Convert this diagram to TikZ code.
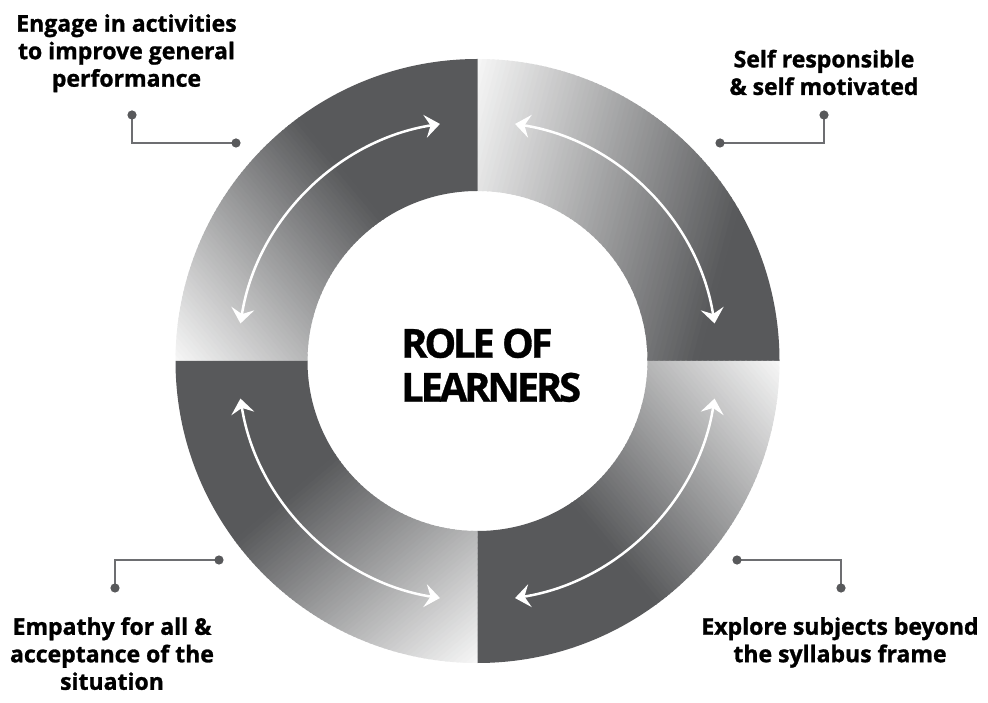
\documentclass[tikz,border=0pt]{standalone}
\usepackage{fontspec}
\setmainfont{Open Sans}[BoldFeatures={FakeBold=1.2}]
\newfontfamily\centerfont{Open Sans}[LetterSpace=-8,BoldFeatures={FakeBold=0.8}]
\usetikzlibrary{arrows.meta,calc}
\definecolor{ringdark}{HTML}{58595B}
\definecolor{ringlight}{HTML}{F7F7F7}
\definecolor{linkgray}{HTML}{6D6E71}
\definecolor{dotgray}{HTML}{58595B}
% #1 start angle of quadrant, #2,#3 light start point, #4 gradient direction, #5 gradient length
\newcommand\ringquad[5]{%
 \begin{scope}
  \clip ($(c)+(#1:302)$) arc[start angle=#1, end angle=#1+90, radius=302]
        -- ($(c)+({#1+90}:170)$) arc[start angle=#1+90, end angle=#1, radius=170] -- cycle;
  \begin{scope}[shift={(#2,#3)}, rotate=#4]
   \fill[ringlight] (-700,-700) rectangle (0,700);
   \fill[ringdark] (#5,-700) rectangle ({#5+700},700);
   \foreach \i in {0,...,59}{
     \pgfmathsetmacro\p{(\i+0.5)/60*100}
     \pgfmathsetmacro\xa{#5/60*\i}
     \pgfmathsetmacro\xb{#5/60*(\i+1.3)}
     \fill[ringdark!\p!ringlight] (\xa,-700) rectangle (\xb,700);
   }
  \end{scope}
 \end{scope}}
\tikzset{
  cyclearrow/.style={draw=white, line width=2.5pt,
     {Stealth[length=15pt,width=23pt,inset=5.5pt]}-{Stealth[length=15pt,width=23pt,inset=5.5pt]}},
  link/.style={draw=linkgray, line width=2.6pt},
  linkdot/.style={fill=dotgray},
  label/.style={font=\fontsize{23}{27.5}\selectfont\bfseries, align=center, inner sep=0pt, anchor=north, text=black},
  title/.style={font=\centerfont\fontsize{40}{44}\selectfont\bfseries, align=left, inner sep=0pt, anchor=north west, text=black}
}
\begin{document}
\begin{tikzpicture}[x=1pt,y=1pt]
\useasboundingbox (0,0) rectangle (988,702);
\fill[white] (0,0) rectangle (988,702);
\coordinate (c) at (477.5,341);
% ring quadrants
\ringquad{0}{477.5}{643}{-15}{290}
\ringquad{90}{175.5}{341}{40}{250}
\ringquad{180}{477.5}{39}{130}{250}
\ringquad{270}{779.5}{341}{220}{250}
% arrows
\foreach \q in {0,90,180,270}{
  \draw[cyclearrow] ($(c)+({\q+9}:240)$) arc[start angle=\q+9, end angle=\q+81, radius=240];
}
% title
\node[title] (title) at (401,373.5) {ROLE OF\\LEARNERS};
% labels
\node[label] (lbTL) at (126.5,688) {Engage in activities\\to improve general\\performance};
\node[label] (lbTR) at (824,652.4) {Self responsible\\\& self motivated};
\node[label] (lbBL) at (112,85) {Empathy for all \&\\acceptance of the\\situation};
\node[label] (lbBR) at (840,85) {Explore subjects beyond\\the syllabus frame};
% connectors
\coordinate (tla) at (132,587); \coordinate (tlb) at (236,559);
\coordinate (tra) at (824,587); \coordinate (trb) at (720,559);
\coordinate (bla) at (219,142); \coordinate (blb) at (115,114);
\coordinate (bra) at (737,142); \coordinate (brb) at (841,114);
\draw[link] (tla) |- (tlb);
\draw[link] (tra) |- (trb);
\draw[link] (bla) -| (blb);
\draw[link] (bra) -| (brb);
\foreach \d in {tla,tlb,tra,trb,bla,blb,bra,brb}{
  \fill[linkdot] (\d) circle[radius=4.6];
}
\end{tikzpicture}
\end{document}
